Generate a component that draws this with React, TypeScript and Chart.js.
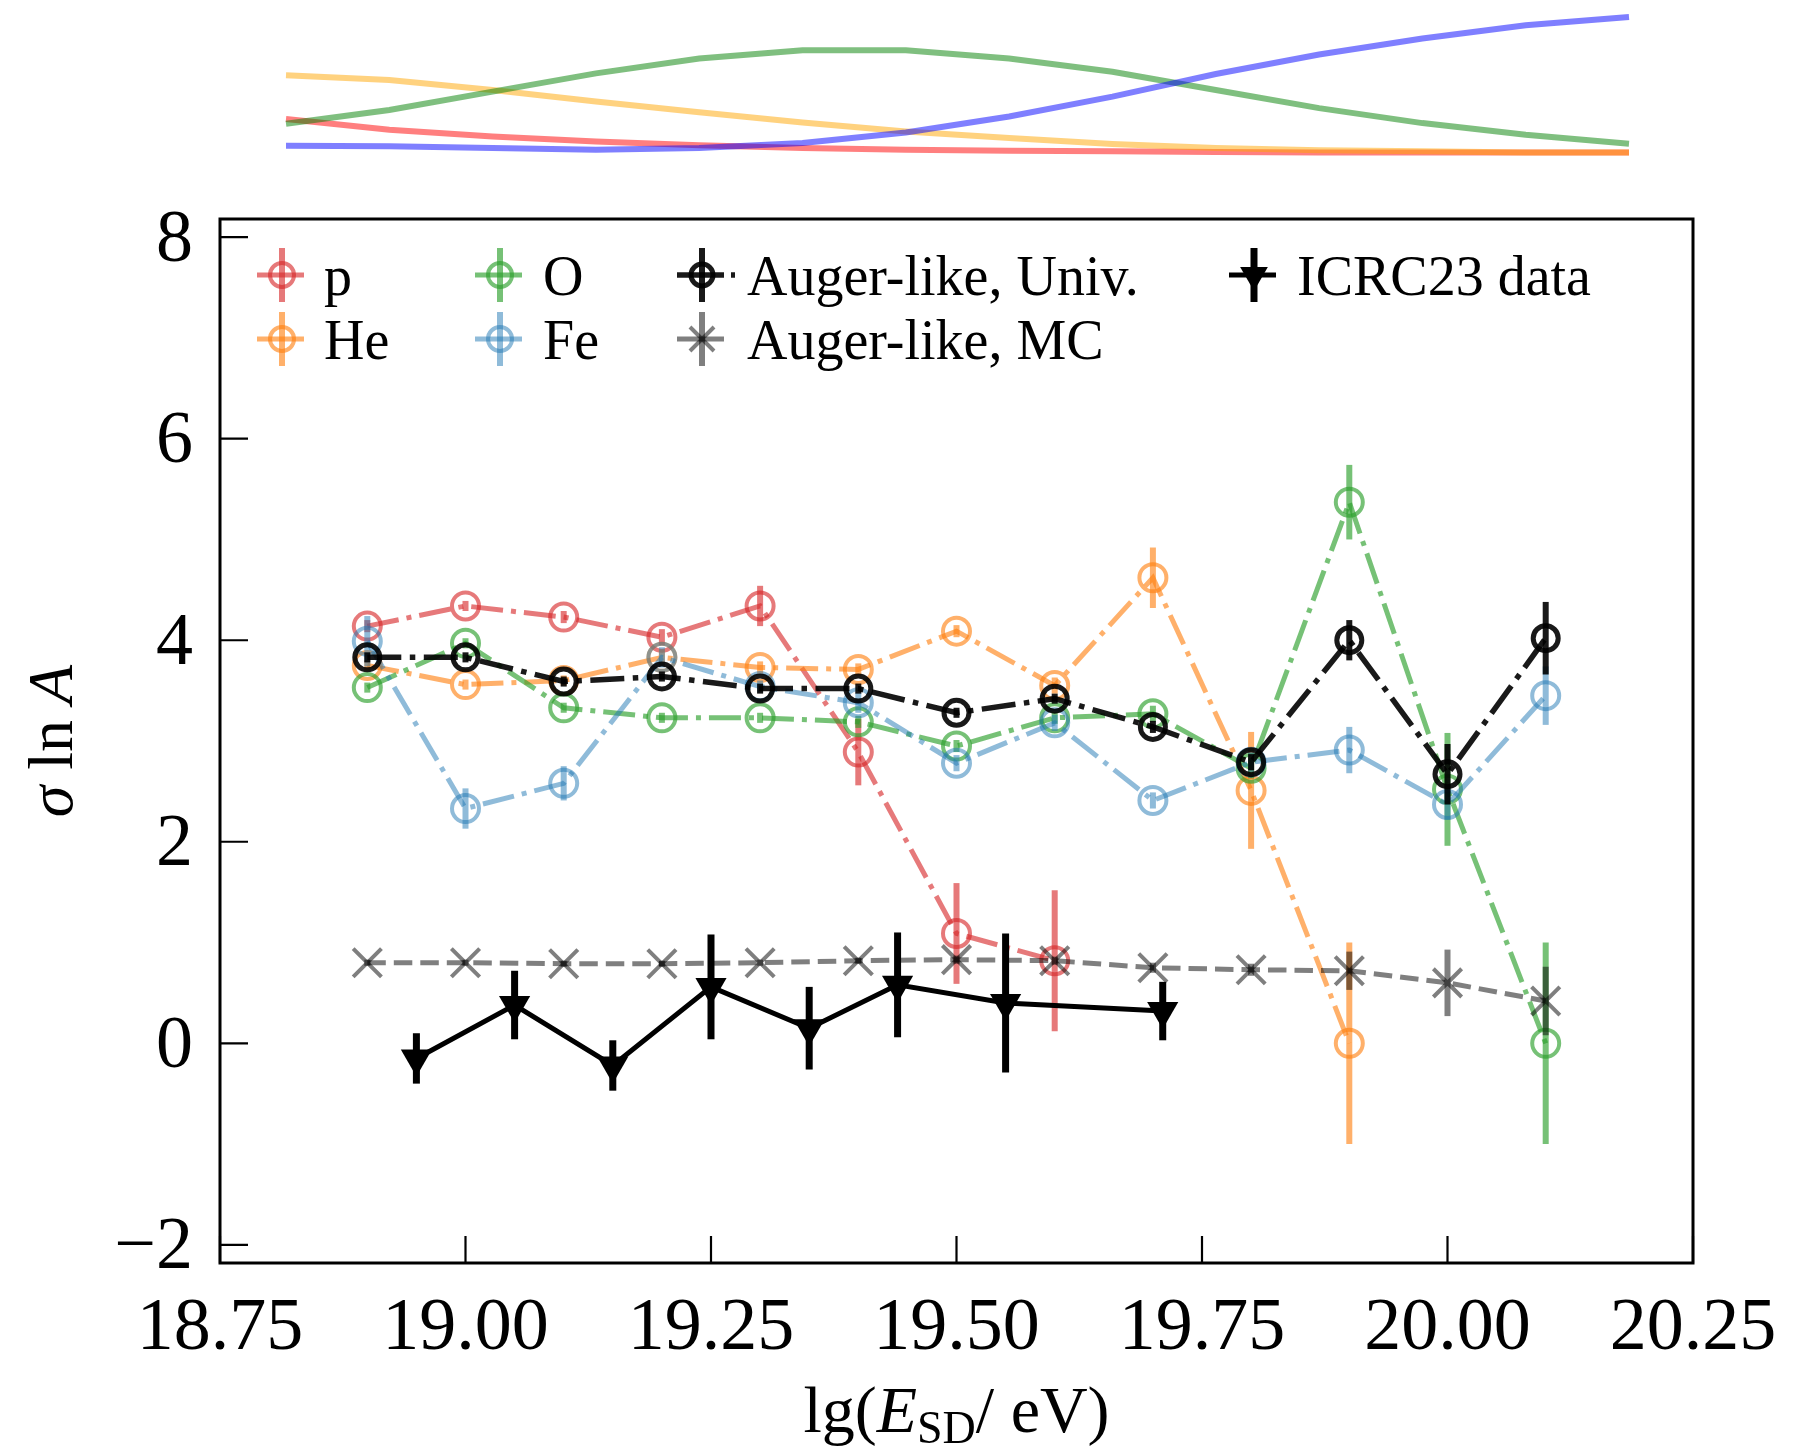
import React, { useEffect, useRef } from 'react';
import { Chart, registerables } from 'chart.js';
Chart.register(...registerables);

// ---------------- data ----------------
const xBins = [18.9, 19.0, 19.1, 19.2, 19.3, 19.4, 19.5, 19.6, 19.7, 19.8, 19.9, 20.0, 20.1];

const pY = [4.14, 4.34, 4.23, 4.03, 4.34, 2.89, 1.09, 0.82];
const pErr = [0.06, 0.05, 0.06, 0.08, 0.2, 0.33, 0.5, 0.7];
const heY = [3.75, 3.56, 3.6, 3.83, 3.73, 3.71, 4.09, 3.55, 4.62, 2.51, 0.0];
const heErr = [0.05, 0.05, 0.05, 0.08, 0.06, 0.06, 0.06, 0.08, 0.3, 0.58, 1.0];
const oY = [3.53, 3.97, 3.33, 3.23, 3.23, 3.19, 2.95, 3.23, 3.27, 2.73, 5.37, 2.52, 0.0];
const oErr = [0.05, 0.05, 0.05, 0.05, 0.05, 0.06, 0.06, 0.06, 0.08, 0.1, 0.37, 0.56, 1.0];
const feY = [3.99, 2.33, 2.58, 3.83, 3.54, 3.38, 2.78, 3.18, 2.41, 2.79, 2.91, 2.37, 3.45];
const feErr = [0.25, 0.2, 0.17, 0.1, 0.06, 0.1, 0.08, 0.08, 0.08, 0.1, 0.23, 0.15, 0.29];
const univY = [3.83, 3.83, 3.59, 3.64, 3.52, 3.52, 3.28, 3.42, 3.14, 2.79, 4.0, 2.67, 4.02];
const univErr = [0.05, 0.05, 0.05, 0.05, 0.05, 0.05, 0.05, 0.05, 0.06, 0.08, 0.2, 0.3, 0.36];
const mcY = [0.8, 0.8, 0.79, 0.79, 0.8, 0.82, 0.83, 0.82, 0.75, 0.73, 0.72, 0.6, 0.42];
const mcErr = [0.03, 0.03, 0.03, 0.03, 0.03, 0.03, 0.04, 0.04, 0.05, 0.06, 0.19, 0.33, 0.34];
const icrcX = [18.95, 19.05, 19.15, 19.25, 19.35, 19.44, 19.55, 19.71];
const icrcY = [-0.15, 0.38, -0.22, 0.56, 0.15, 0.58, 0.4, 0.32];
const icrcErr = [0.25, 0.34, 0.25, 0.52, 0.41, 0.52, 0.69, 0.29];

const xTicks = [18.75, 19.0, 19.25, 19.5, 19.75, 20.0, 20.25];
const xTickLabels = ['18.75', '19.00', '19.25', '19.50', '19.75', '20.00', '20.25'];
const yTicks = [-2, 0, 2, 4, 6, 8];
const yTickLabels = ['\u22122', '0', '2', '4', '6', '8'];

// top panel: composition fractions
const fracX = [18.8, 18.9, 19.0, 19.1, 19.2, 19.3, 19.4, 19.5, 19.6, 19.7, 19.8, 19.9, 20.0, 20.1];
const fracP = [0.229, 0.157, 0.112, 0.078, 0.052, 0.034, 0.022, 0.016, 0.011, 0.007, 0.004, 0.004, 0.004, 0.004];
const fracHe = [0.525, 0.493, 0.426, 0.348, 0.276, 0.206, 0.146, 0.101, 0.061, 0.034, 0.018, 0.011, 0.004, 0.004];
const fracO = [0.197, 0.291, 0.415, 0.538, 0.639, 0.695, 0.695, 0.639, 0.549, 0.426, 0.303, 0.202, 0.123, 0.063];
const fracFe = [0.049, 0.045, 0.034, 0.022, 0.034, 0.067, 0.139, 0.247, 0.381, 0.534, 0.666, 0.774, 0.863, 0.919];

// ---------------- styles ----------------
const W = 1814;
const H = 1455;
const FONT = '"Liberation Serif", "DejaVu Serif", serif';
const RED = 'rgba(214,39,40,0.62)';
const ORANGE = 'rgba(255,127,14,0.62)';
const GREEN = 'rgba(44,160,44,0.65)';
const BLUE = 'rgba(31,119,180,0.5)';
const BLACK = 'rgba(0,0,0,0.9)';
const GRAY = 'rgba(0,0,0,0.5)';
const DASHDOT = [32, 8, 5, 8];
const DASHDOT_B = [34, 8.5, 5.5, 8.5];
const DASHED = [18.5, 8];

type Series = {
  label: string;
  x: number[];
  y: number[];
  err: number[];
  color: string;
  marker: 'circle' | 'crossRot' | 'triangle';
  dash: number[];
  lw: number;
  r: number;
  bw: number;
  ew: number;
};

const series: Series[] = [
  { label: 'p', x: xBins.slice(0, pY.length), y: pY, err: pErr, color: RED, marker: 'circle', dash: DASHDOT, lw: 5, r: 13.5, bw: 4, ew: 6 },
  { label: 'He', x: xBins.slice(0, heY.length), y: heY, err: heErr, color: ORANGE, marker: 'circle', dash: DASHDOT, lw: 5, r: 13.5, bw: 4, ew: 6 },
  { label: 'O', x: xBins, y: oY, err: oErr, color: GREEN, marker: 'circle', dash: DASHDOT, lw: 5, r: 13.5, bw: 4, ew: 6 },
  { label: 'Fe', x: xBins, y: feY, err: feErr, color: BLUE, marker: 'circle', dash: DASHDOT, lw: 5, r: 13.5, bw: 4, ew: 6 },
  { label: 'Auger-like, Univ.', x: xBins, y: univY, err: univErr, color: BLACK, marker: 'circle', dash: DASHDOT_B, lw: 5.5, r: 12.5, bw: 5, ew: 6 },
  { label: 'Auger-like, MC', x: xBins, y: mcY, err: mcErr, color: GRAY, marker: 'crossRot', dash: DASHED, lw: 5, r: 20, bw: 4, ew: 6 },
  { label: 'ICRC23 data', x: icrcX, y: icrcY, err: icrcErr, color: '#000', marker: 'triangle', dash: [], lw: 5, r: 18, bw: 1, ew: 7 },
];

// legend layout: [seriesIndex, markerX, markerY, textX, textBaseline]
const legendLayout: [number, number, number, number, number][] = [
  [0, 282, 275, 324, 295],
  [1, 282, 339, 324, 359],
  [2, 500, 275, 543, 295],
  [3, 500, 339, 543, 359],
  [4, 702, 275, 747, 295],
  [5, 702, 339, 747, 359],
  [6, 1254, 275, 1297, 295],
];

function drawMarker(ctx: CanvasRenderingContext2D, s: Series, x: number, y: number, r: number) {
  ctx.save();
  ctx.setLineDash([]);
  if (s.marker === 'circle') {
    ctx.strokeStyle = s.color;
    ctx.lineWidth = s.bw;
    ctx.beginPath();
    ctx.arc(x, y, r, 0, Math.PI * 2);
    ctx.stroke();
  } else if (s.marker === 'crossRot') {
    const d = r * Math.SQRT1_2;
    ctx.strokeStyle = s.color;
    ctx.lineWidth = s.bw;
    ctx.beginPath();
    ctx.moveTo(x - d, y - d);
    ctx.lineTo(x + d, y + d);
    ctx.moveTo(x + d, y - d);
    ctx.lineTo(x - d, y + d);
    ctx.stroke();
  } else {
    ctx.fillStyle = s.color;
    ctx.beginPath();
    ctx.moveTo(x, y + r);
    ctx.lineTo(x - r * 0.866, y - r * 0.5);
    ctx.lineTo(x + r * 0.866, y - r * 0.5);
    ctx.closePath();
    ctx.fill();
  }
  ctx.restore();
}

type Run = { t: string; f: string; dy?: number };
function runsWidth(ctx: CanvasRenderingContext2D, runs: Run[]) {
  let w = 0;
  for (const r of runs) {
    ctx.font = r.f;
    w += ctx.measureText(r.t).width;
  }
  return w;
}
function drawRuns(ctx: CanvasRenderingContext2D, runs: Run[], cx: number, y: number) {
  let x = cx - runsWidth(ctx, runs) / 2;
  ctx.textAlign = 'left';
  ctx.textBaseline = 'alphabetic';
  for (const r of runs) {
    ctx.font = r.f;
    ctx.fillText(r.t, x, y + (r.dy || 0));
    x += ctx.measureText(r.t).width;
  }
}

const errorBarPlugin = {
  id: 'errbars',
  beforeDatasetDraw(chart: any, args: any) {
    const s = series[args.index];
    if (!s) return;
    const ctx: CanvasRenderingContext2D = chart.ctx;
    const xs = chart.scales.x;
    const ys = chart.scales.y;
    ctx.save();
    ctx.strokeStyle = s.color;
    ctx.lineWidth = s.ew;
    ctx.setLineDash([]);
    ctx.lineCap = 'butt';
    s.x.forEach((xv, i) => {
      const px = xs.getPixelForValue(xv);
      ctx.beginPath();
      ctx.moveTo(px, ys.getPixelForValue(s.y[i] - s.err[i]));
      ctx.lineTo(px, ys.getPixelForValue(s.y[i] + s.err[i]));
      ctx.stroke();
    });
    ctx.restore();
  },
};

const decorPlugin = {
  id: 'decor',
  afterDraw(chart: any) {
    const ctx: CanvasRenderingContext2D = chart.ctx;
    const a = chart.chartArea;
    const xs = chart.scales.x;
    const ys = chart.scales.y;
    ctx.save();
    ctx.setLineDash([]);
    // frame
    ctx.strokeStyle = '#000';
    ctx.lineWidth = 3;
    ctx.strokeRect(a.left, a.top, a.right - a.left, a.bottom - a.top);
    // ticks
    ctx.lineWidth = 2.2;
    ctx.beginPath();
    xTicks.forEach((v) => {
      const px = xs.getPixelForValue(v);
      ctx.moveTo(px, a.bottom);
      ctx.lineTo(px, a.bottom - 27);
    });
    yTicks.forEach((v) => {
      const py = ys.getPixelForValue(v);
      ctx.moveTo(a.left, py);
      ctx.lineTo(a.left + 28, py);
    });
    ctx.stroke();
    // tick labels
    ctx.fillStyle = '#000';
    ctx.font = `74px ${FONT}`;
    ctx.textAlign = 'center';
    ctx.textBaseline = 'alphabetic';
    xTicks.forEach((v, i) => {
      ctx.fillText(xTickLabels[i], xs.getPixelForValue(v), 1349);
    });
    ctx.textAlign = 'right';
    ctx.textBaseline = 'middle';
    yTicks.forEach((v, i) => {
      ctx.fillText(yTickLabels[i], 193, ys.getPixelForValue(v) + 4);
    });
    // axis titles
    const cx = (a.left + a.right) / 2;
    drawRuns(
      ctx,
      [
        { t: 'lg(', f: `66px ${FONT}` },
        { t: 'E', f: `italic 66px ${FONT}` },
        { t: 'SD', f: `46px ${FONT}`, dy: 11 },
        { t: '/ eV)', f: `66px ${FONT}` },
      ],
      cx,
      1432
    );
    ctx.save();
    ctx.translate(72, (a.top + a.bottom) / 2);
    ctx.rotate(-Math.PI / 2);
    drawRuns(
      ctx,
      [
        { t: '\u03c3', f: `italic 64px ${FONT}` },
        { t: ' ln ', f: `64px ${FONT}` },
        { t: 'A', f: `italic 64px ${FONT}` },
      ],
      0,
      0
    );
    ctx.restore();
    // legend
    legendLayout.forEach(([si, mx, my, tx, tb]) => {
      const s = series[si];
      ctx.save();
      ctx.lineCap = 'butt';
      ctx.strokeStyle = s.color;
      ctx.lineWidth = s.lw;
      ctx.beginPath();
      ctx.moveTo(mx - 25, my);
      ctx.lineTo(mx + 22, my);
      ctx.stroke();
      if (si === 4) {
        ctx.beginPath();
        ctx.moveTo(mx + 29, my);
        ctx.lineTo(mx + 33, my);
        ctx.stroke();
      }
      ctx.lineWidth = s.ew;
      ctx.beginPath();
      ctx.moveTo(mx, my - 27);
      ctx.lineTo(mx, my + 27);
      ctx.stroke();
      ctx.restore();
      drawMarker(ctx, s, mx, my, s.marker === 'circle' ? s.r - 1.5 : s.marker === 'triangle' ? 16 : 17);
      ctx.fillStyle = '#000';
      ctx.font = `56px ${FONT}`;
      ctx.textAlign = 'left';
      ctx.textBaseline = 'alphabetic';
      ctx.fillText(s.label, tx, tb);
    });
    ctx.restore();
  },
};

export default function App() {
  const topRef = useRef<HTMLCanvasElement>(null);
  const mainRef = useRef<HTMLCanvasElement>(null);

  useEffect(() => {
    const n = series.length;
    const datasets = series.map((s, i) => ({
      label: s.label,
      data: s.x.map((xv, j) => ({ x: xv, y: s.y[j] })),
      borderColor: s.color,
      borderWidth: s.lw,
      borderDash: s.dash,
      backgroundColor: s.marker === 'triangle' ? s.color : 'rgba(0,0,0,0)',
      pointStyle: s.marker,
      pointRadius: s.r,
      pointRotation: s.marker === 'triangle' ? 180 : 0,
      pointBorderColor: s.color,
      pointBackgroundColor: s.marker === 'triangle' ? s.color : 'rgba(0,0,0,0)',
      pointBorderWidth: s.marker === 'triangle' ? 0 : s.bw,
      fill: false,
      tension: 0,
      order: n - i,
    }));

    const main = new Chart(mainRef.current as HTMLCanvasElement, {
      type: 'line',
      data: { datasets: datasets as any },
      options: {
        animation: false,
        responsive: false,
        devicePixelRatio: 1,
        layout: { padding: { left: 0, top: 219, right: 121, bottom: 0 } },
        plugins: { legend: { display: false }, tooltip: { enabled: false } },
        scales: {
          x: {
            type: 'linear',
            min: 18.75,
            max: 20.25,
            grid: { display: false },
            border: { display: false },
            ticks: { display: false },
            afterFit: (s: any) => {
              s.height = 192;
            },
          },
          y: {
            type: 'linear',
            min: -2.18,
            max: 8.18,
            grid: { display: false },
            border: { display: false },
            ticks: { display: false },
            afterFit: (s: any) => {
              s.width = 220;
            },
          },
        },
      },
      plugins: [errorBarPlugin, decorPlugin],
    });

    const fracSets = [
      { d: fracP, c: 'rgba(255,0,0,0.5)' },
      { d: fracHe, c: 'rgba(255,165,0,0.5)' },
      { d: fracO, c: 'rgba(0,128,0,0.5)' },
      { d: fracFe, c: 'rgba(0,0,255,0.5)' },
    ];
    const top = new Chart(topRef.current as HTMLCanvasElement, {
      type: 'line',
      data: {
        datasets: fracSets.map((f, i) => ({
          data: fracX.map((xv, j) => ({ x: xv, y: f.d[j] })),
          borderColor: f.c,
          borderWidth: 6,
          pointRadius: 0,
          fill: false,
          tension: 0,
          clip: false as any,
          order: 4 - i,
        })) as any,
      },
      options: {
        animation: false,
        responsive: false,
        devicePixelRatio: 1,
        layout: { padding: { left: 286, right: 185, top: 5, bottom: 17 } },
        plugins: { legend: { display: false }, tooltip: { enabled: false } },
        scales: {
          x: { type: 'linear', min: 18.8, max: 20.1, display: false },
          y: { type: 'linear', min: 0, max: 1, display: false },
        },
      },
    });

    return () => {
      main.destroy();
      top.destroy();
    };
  }, []);

  return (
    <div style={{ position: 'absolute', left: 0, top: 0, width: W, height: H, background: '#fff' }}>
      <canvas ref={mainRef} width={W} height={H} style={{ position: 'absolute', left: 0, top: 0 }} />
      <canvas ref={topRef} width={W} height={170} style={{ position: 'absolute', left: 0, top: 0 }} />
    </div>
  );
}
